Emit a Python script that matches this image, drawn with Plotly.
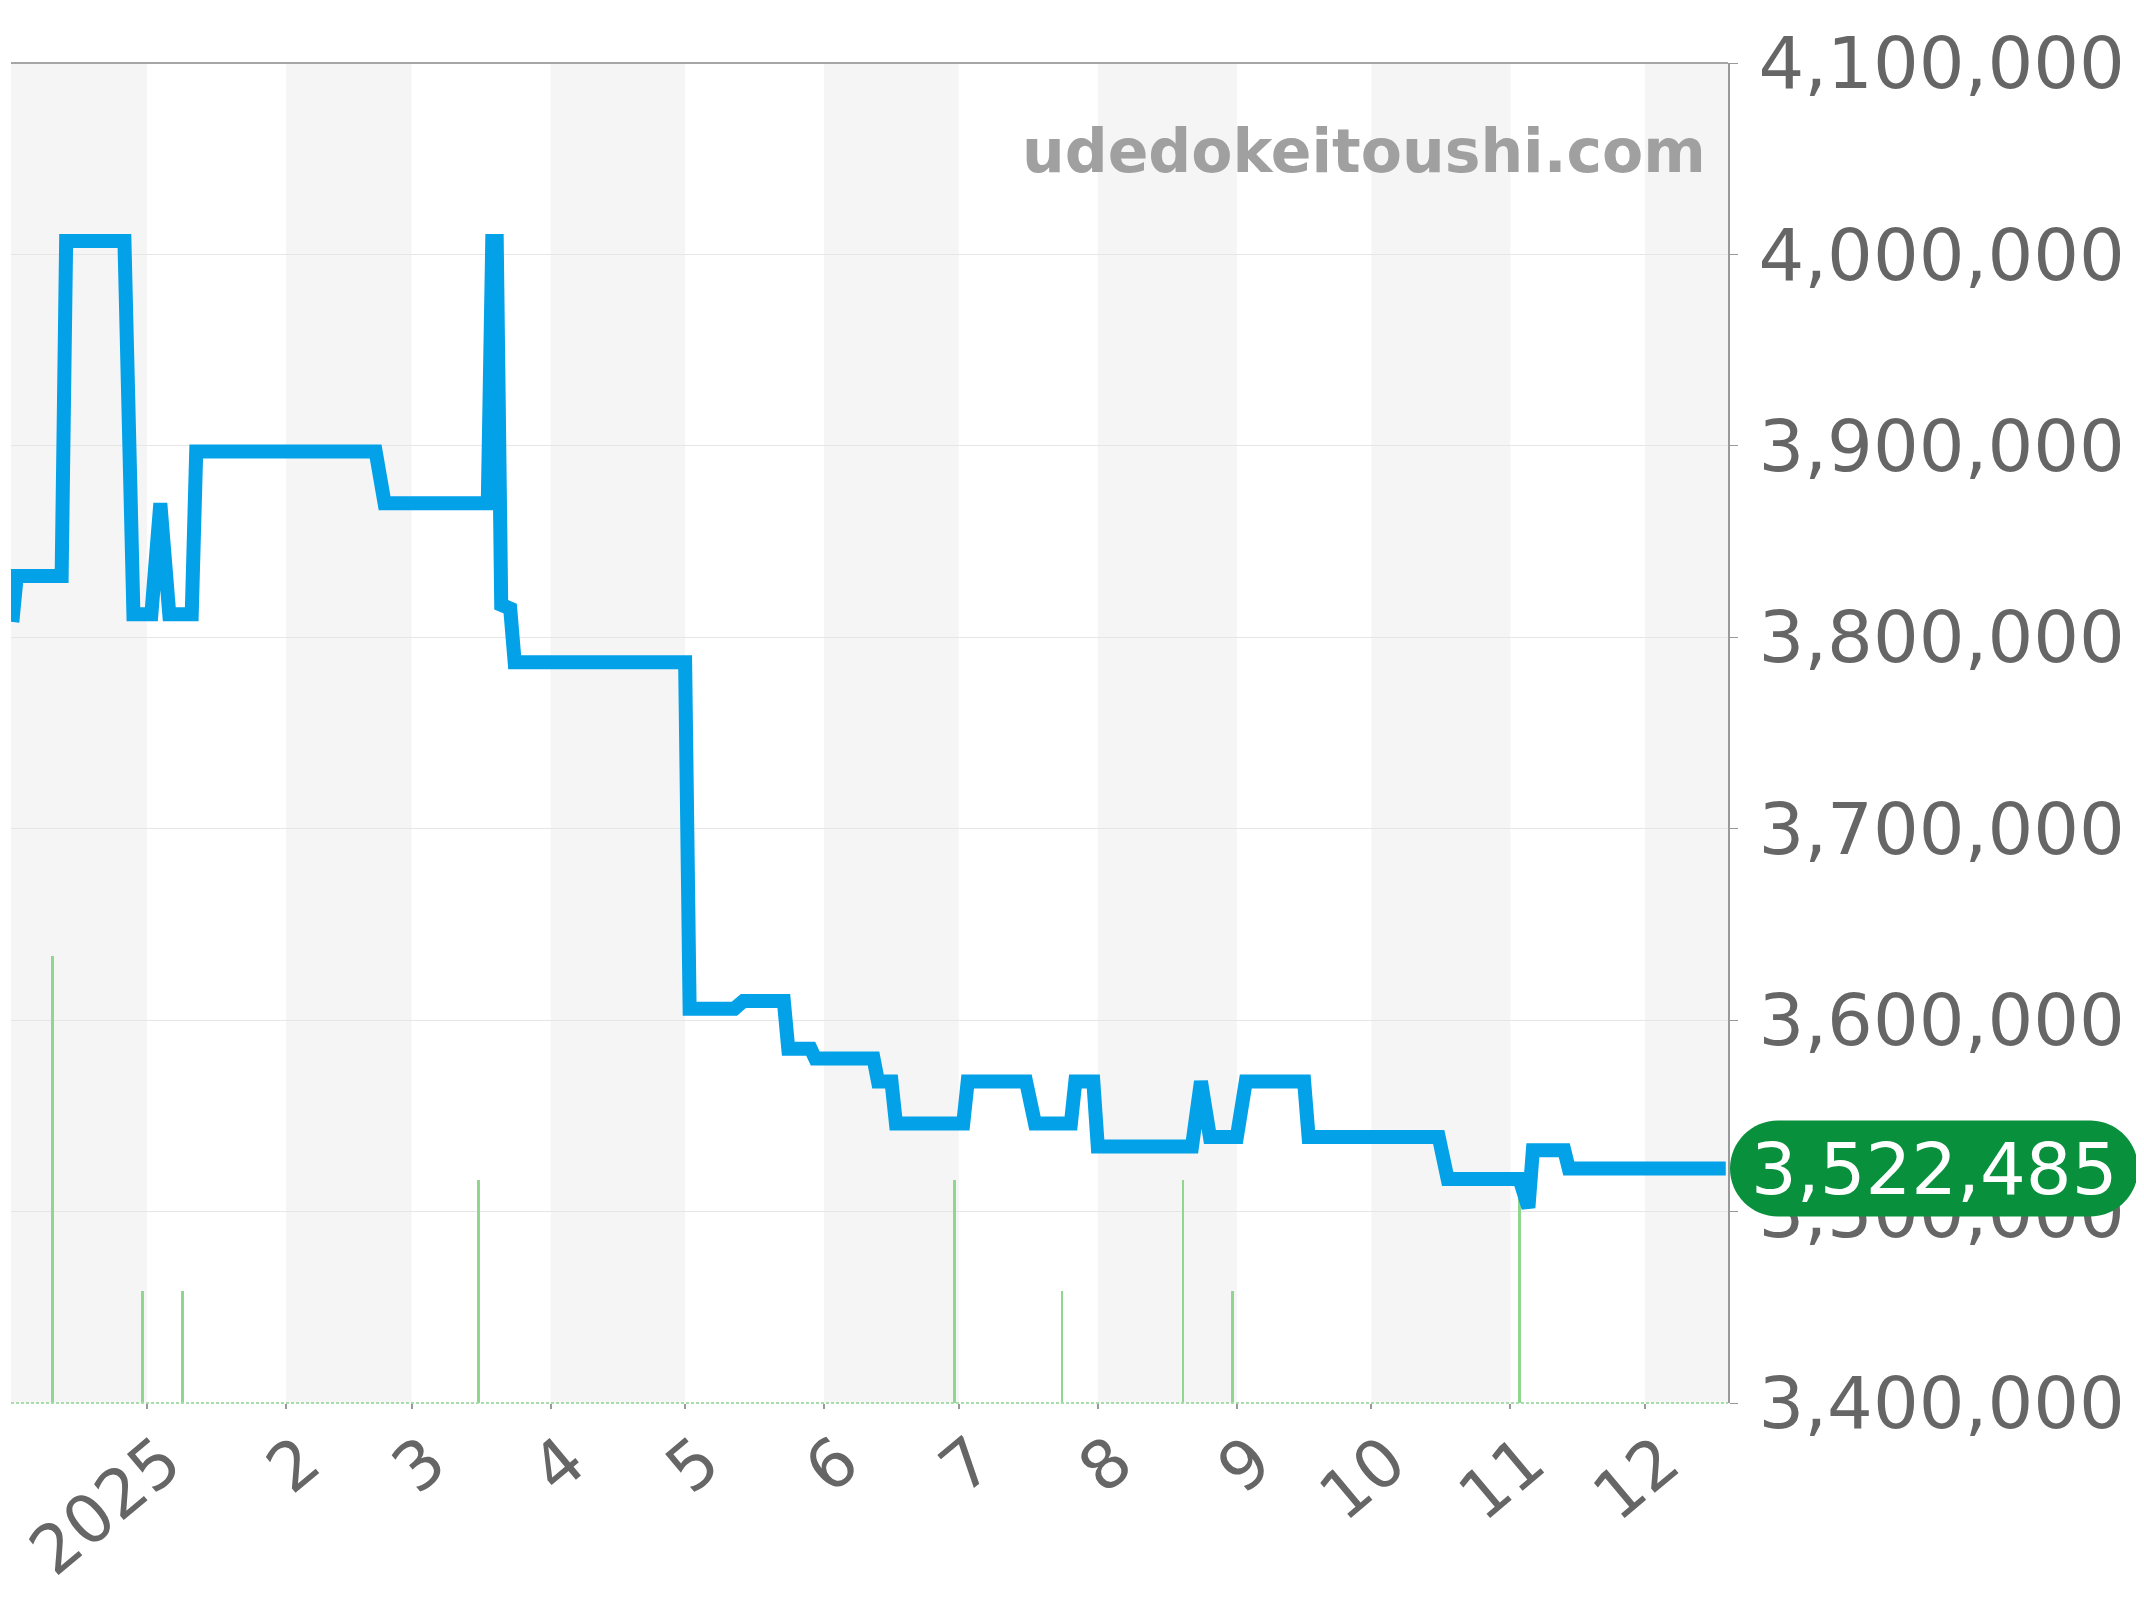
import plotly.graph_objects as go

# price history (yen)
price_dates = [
    '2024-12-02', '2024-12-03', '2024-12-13', '2024-12-14', '2024-12-27',
    '2024-12-29', '2025-01-02', '2025-01-04', '2025-01-06', '2025-01-11',
    '2025-01-12', '2025-02-21', '2025-02-23', '2025-03-18', '2025-03-19',
    '2025-03-20', '2025-03-21', '2025-03-23', '2025-03-24', '2025-05-01',
    '2025-05-02', '2025-05-12', '2025-05-14', '2025-05-23', '2025-05-24',
    '2025-05-29', '2025-05-30', '2025-06-12', '2025-06-13', '2025-06-16',
    '2025-06-17', '2025-07-02', '2025-07-03', '2025-07-16', '2025-07-18',
    '2025-07-26', '2025-07-27', '2025-07-31', '2025-08-01', '2025-08-22',
    '2025-08-24', '2025-08-26', '2025-09-01', '2025-09-03', '2025-09-16',
    '2025-09-17', '2025-10-16', '2025-10-18', '2025-11-03', '2025-11-05',
    '2025-11-06', '2025-11-13', '2025-11-14', '2025-12-19',
]
price_values = [
    3808000, 3832000, 3832000, 4007000, 4007000,
    3812000, 3812000, 3870000, 3812000, 3812000,
    3897000, 3897000, 3870000, 3870000, 4007000,
    4007000, 3817000, 3815000, 3787000, 3787000,
    3606000, 3606000, 3610000, 3610000, 3585000,
    3585000, 3580000, 3580000, 3568000, 3568000,
    3546000, 3546000, 3568000, 3568000, 3546000,
    3546000, 3568000, 3568000, 3534000, 3534000,
    3568000, 3539000, 3539000, 3568000, 3568000,
    3539000, 3539000, 3517000, 3517000, 3502000,
    3532000, 3532000, 3522485, 3522485,
]

# listing counts (green bars)
count_dates = ['2024-12-11', '2024-12-31', '2025-01-09', '2025-03-16', '2025-06-30',
               '2025-07-24', '2025-08-20', '2025-08-31', '2025-11-03']
count_values = [4, 1, 1, 2, 2, 1, 2, 1, 2]

tick_dates = ['2025-01-01', '2025-02-01', '2025-03-01', '2025-04-01', '2025-05-01',
              '2025-06-01', '2025-07-01', '2025-08-01', '2025-09-01', '2025-10-01',
              '2025-11-01', '2025-12-01']
tick_labels = ['2025', '2', '3', '4', '5', '6', '7', '8', '9', '10', '11', '12']

shaded_months = [('2024-12-01', '2025-01-01'), ('2025-02-01', '2025-03-01'),
                 ('2025-04-01', '2025-05-01'), ('2025-06-01', '2025-07-01'),
                 ('2025-08-01', '2025-09-01'), ('2025-10-01', '2025-11-01'),
                 ('2025-12-01', '2026-01-01')]

FONT = 'DejaVu Sans'
latest = price_values[-1]

fig = go.Figure()

fig.add_trace(
    go.Bar(
        x=count_dates,
        y=count_values,
        width=0.6 * 86400000,
        marker_color='#8fd68f',
        marker_line_width=0,
        yaxis='y',
    )
)

fig.add_trace(
    go.Scatter(
        x=price_dates,
        y=price_values,
        mode='lines',
        line=dict(color='#02a1e8', width=14),
        yaxis='y2',
    )
)

shapes = []
for x0, x1 in shaded_months:
    shapes.append(dict(type='rect', xref='x', yref='paper', x0=x0, x1=x1, y0=0, y1=1,
                       fillcolor='#f5f5f5', line_width=0, layer='below'))

# dotted baseline and top border
shapes.append(dict(type='line', xref='paper', yref='paper', x0=0, x1=1, y0=0, y1=0,
                   line=dict(color='#a8dca8', width=2, dash='3px,2px'), layer='above'))
shapes.append(dict(type='line', xref='paper', yref='paper', x0=0, x1=1, y0=1, y1=1,
                   line=dict(color='#a6a6a6', width=2), layer='above'))

# rounded label for the latest price
shapes.append(dict(
    type='path', xref='paper', yref='y2', xsizemode='pixel', ysizemode='pixel',
    xanchor=1, yanchor=latest,
    path='M 50,-48 L 362,-48 C 388.5,-48 410,-26.5 410,0 C 410,26.5 388.5,48 362,48 '
         'L 50,48 C 23.5,48 2,26.5 2,0 C 2,-26.5 23.5,-48 50,-48 Z',
    fillcolor='#08903c', line_width=0, layer='above'))

# the page body adds an 8px margin, so the figure is 8px smaller
fig.update_layout(
    width=2136,
    height=1592,
    paper_bgcolor='white',
    plot_bgcolor='white',
    showlegend=False,
    hovermode=False,
    bargap=0,
    margin=dict(l=3, r=416, t=55, b=197),
    font=dict(family=FONT, color='#666666'),
    shapes=shapes,
    xaxis=dict(
        type='date',
        range=['2024-12-01 17:00', '2025-12-19 12:00'],
        tickvals=tick_dates,
        ticktext=tick_labels,
        tickangle=-40,
        tickfont=dict(size=67, color='#666666'),
        ticks='outside',
        ticklen=5,
        tickwidth=2,
        tickcolor='#999999',
        ticklabelshift=17,
        ticklabelstandoff=-13,
        ticklabeloverflow='allow',
        showgrid=False,
        showline=False,
        zeroline=False,
        automargin=False,
    ),
    yaxis=dict(
        range=[0, 12],
        visible=False,
        showgrid=False,
        zeroline=False,
        fixedrange=True,
    ),
    yaxis2=dict(
        overlaying='y',
        side='right',
        range=[3400000, 4100000],
        dtick=100000,
        tickformat=',d',
        tickfont=dict(size=72, color='#666666'),
        ticks='outside',
        ticklen=8,
        tickwidth=1,
        tickcolor='#999999',
        ticklabelstandoff=6,
        ticklabeloverflow='allow',
        showline=True,
        linecolor='#999999',
        linewidth=2,
        showgrid=True,
        gridcolor='#e6e6e6',
        gridwidth=1,
        zeroline=False,
        automargin=False,
    ),
    annotations=[
        dict(text='udedokeitoushi.com', xref='paper', yref='paper', x=1, y=1,
             xanchor='right', yanchor='middle', xshift=-20, yshift=-88,
             showarrow=False,
             font=dict(family=FONT, size=60, color='#a0a0a0', weight='bold')),
        dict(text=f'{latest:,}', xref='paper', yref='y2', x=1, y=latest,
             xanchor='center', yanchor='middle', xshift=206,
             showarrow=False,
             font=dict(family=FONT, size=72, color='white')),
    ],
)

fig.write_html('out.html')
